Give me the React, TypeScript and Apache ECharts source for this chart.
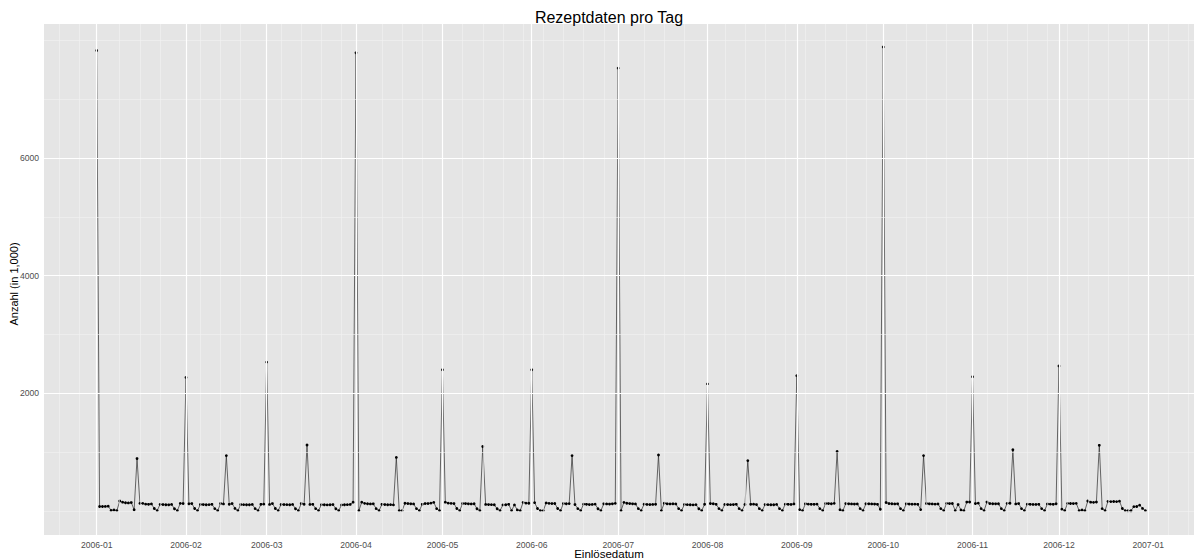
import React, { useEffect, useRef } from "react";
import * as echarts from "echarts";

// Daily values (in 1,000), 2006
const jan = [7830, 75, 75, 76, 80, 8, 15, 5, 168, 148, 138, 135, 142, 20, 890, 128, 128, 115, 112, 118, 40, 5, 111, 108, 105, 103, 110, 36, 4, 128, 125];
const feb = [2270, 120, 125, 40, 5, 110, 108, 105, 106, 112, 38, 4, 125, 118, 940, 112, 125, 42, 5, 108, 106, 104, 105, 110, 38, 5, 112, 115];
const mar = [2530, 110, 125, 40, 5, 110, 108, 106, 105, 110, 36, 4, 125, 112, 1120, 110, 112, 38, 5, 106, 105, 102, 104, 108, 36, 5, 102, 104, 106, 110, 148];
const apr = [7790, 5, 148, 128, 122, 118, 120, 38, 5, 112, 108, 104, 106, 102, 910, 5, 4, 130, 125, 120, 118, 38, 5, 112, 125, 125, 132, 145, 38, 5];
const may = [2400, 148, 132, 128, 125, 40, 5, 125, 125, 120, 118, 122, 36, 5, 1095, 110, 108, 106, 104, 36, 5, 102, 104, 112, 5, 102, 15, 4, 145, 132, 130];
const jun = [2400, 140, 40, 5, 4, 135, 128, 125, 126, 40, 5, 125, 122, 124, 940, 108, 38, 5, 115, 112, 108, 110, 115, 36, 5, 120, 118, 116, 120, 128];
const jul = [7530, 5, 145, 130, 125, 120, 118, 38, 5, 115, 110, 108, 110, 112, 950, 5, 130, 120, 118, 120, 118, 38, 5, 110, 106, 104, 102, 106, 36, 5, 112];
const aug = [2160, 125, 122, 112, 38, 5, 110, 108, 106, 108, 112, 38, 5, 110, 855, 112, 114, 108, 38, 5, 108, 106, 104, 105, 110, 38, 5, 115, 112, 110, 118];
const sep = [2300, 22, 5, 120, 115, 112, 112, 115, 38, 5, 125, 125, 122, 128, 1010, 18, 4, 125, 120, 118, 116, 118, 38, 5, 122, 120, 118, 116, 112, 28];
const oct = [7890, 142, 125, 122, 118, 120, 38, 5, 120, 116, 114, 115, 112, 22, 940, 125, 120, 118, 115, 118, 38, 5, 128, 125, 126, 5, 108, 15, 4, 150, 150];
const nov = [2280, 125, 132, 38, 5, 150, 125, 122, 120, 122, 38, 5, 128, 130, 1040, 118, 125, 38, 5, 115, 112, 110, 110, 112, 38, 5, 118, 115, 112, 120];
const dec = [2465, 30, 5, 128, 126, 125, 128, 5, 15, 4, 168, 148, 145, 150, 1115, 38, 5, 162, 158, 160, 158, 165, 40, 5, 3, 3, 72, 74, 98, 42, 4];

const monthLabels = ["2006-01", "2006-02", "2006-03", "2006-04", "2006-05", "2006-06", "2006-07", "2006-08", "2006-09", "2006-10", "2006-11", "2006-12", "2007-01"];
const yTickValues = [2000, 4000, 6000];
const yMinorValues = [0, 1000, 3000, 5000, 7000, 8000];

const titleText = "Rezeptdaten pro Tag";
const xTitle = "Einlösedatum";
const yTitle = "Anzahl (in 1,000)";

const FONT = "'Liberation Sans', Arial, Helvetica, sans-serif";

export default function App() {
  const ref = useRef<HTMLDivElement>(null);

  useEffect(() => {
    if (!ref.current) return;
    const chart = echarts.init(ref.current, null, { renderer: "svg" });

    const months = [jan, feb, mar, apr, may, jun, jul, aug, sep, oct, nov, dec];
    const data: [number, number][] = [];
    const monthStarts: number[] = [];
    let idx = 0;
    months.forEach((m) => {
      monthStarts.push(idx);
      m.forEach((v) => {
        data.push([idx, v]);
        idx++;
      });
    });
    monthStarts.push(idx);

    const xMin = -18.29;
    const xMax = 380.87;

    // weekly (Monday) minor grid lines; day 1 = Monday 2006-01-02
    const weekly: number[] = [];
    for (let d = -13; d <= xMax; d += 7) {
      const near = monthStarts.some((s) => Math.abs(s - d) <= 2);
      if (!near && d > xMin) weekly.push(d);
    }

    const minorStyle = { color: "#F2F2F2", width: 0.6, type: "solid" as const };
    const majorStyle = { color: "#FFFFFF", width: 1.2, type: "solid" as const };

    const gridLines: any[] = [];
    yMinorValues.forEach((v) => gridLines.push({ yAxis: v, lineStyle: minorStyle }));
    weekly.forEach((v) => gridLines.push({ xAxis: v, lineStyle: minorStyle }));
    yTickValues.forEach((v) => gridLines.push({ yAxis: v, lineStyle: majorStyle }));
    monthStarts.forEach((v) => gridLines.push({ xAxis: v, lineStyle: majorStyle }));

    const labelStyle = { fontFamily: FONT, fontSize: 8.6, color: "#4d4d4d" };

    chart.setOption({
      animation: false,
      backgroundColor: "#ffffff",
      title: [
        {
          text: titleText,
          left: 609,
          top: 9,
          textAlign: "center",
          padding: 0,
          textStyle: { fontFamily: FONT, fontSize: 16, fontWeight: "normal", color: "#000" },
        },
        {
          text: xTitle,
          left: 609,
          top: 547.5,
          textAlign: "center",
          padding: 0,
          textStyle: { fontFamily: FONT, fontSize: 11.5, fontWeight: "normal", color: "#000" },
        },
      ],
      graphic: [
        {
          type: "text",
          x: 14.3,
          y: 284,
          rotation: Math.PI / 2,
          style: {
            text: yTitle,
            fontFamily: FONT,
            fontSize: 11,
            fill: "#000",
            textAlign: "center",
            textVerticalAlign: "middle",
          },
        },
      ],
      grid: {
        left: 44,
        right: 0,
        top: 24,
        bottom: 25,
        show: true,
        backgroundColor: "#E5E5E5",
        borderWidth: 0,
        containLabel: false,
      },
      xAxis: {
        type: "value",
        min: xMin,
        max: xMax,
        axisLine: { show: false },
        splitLine: { show: false },
        axisTick: {
          show: true,
          customValues: monthStarts,
          length: 4,
          lineStyle: { color: "#7f7f7f", width: 1 },
        },
        axisLabel: {
          ...labelStyle,
          customValues: monthStarts,
          margin: 5,
          formatter: (v: number) => {
            const i = monthStarts.indexOf(Math.round(v));
            return i >= 0 ? monthLabels[i] : "";
          },
        },
      },
      yAxis: {
        type: "value",
        min: -410,
        max: 8280,
        axisLine: { show: false },
        splitLine: { show: false },
        axisTick: {
          show: true,
          customValues: yTickValues,
          length: 4,
          lineStyle: { color: "#7f7f7f", width: 1 },
        },
        axisLabel: {
          ...labelStyle,
          customValues: yTickValues,
          margin: 5,
          formatter: (v: number) => String(Math.round(v)),
        },
      },
      series: [
        {
          type: "line",
          data: [],
          z: 1,
          silent: true,
          markLine: {
            silent: true,
            symbol: ["none", "none"],
            label: { show: false },
            animation: false,
            data: gridLines,
          },
        },
        {
          type: "line",
          data,
          z: 3,
          symbol: "circle",
          symbolSize: 2.8,
          showSymbol: true,
          showAllSymbol: true,
          itemStyle: { color: "#000" },
          lineStyle: { color: "#2b2b2b", width: 0.7, join: "round", cap: "round" },
          emphasis: { disabled: true },
        },
      ],
    });

    return () => chart.dispose();
  }, []);

  return (
    <div
      ref={ref}
      style={{ position: "fixed", left: 0, top: 0, width: 1194, height: 560, background: "#fff" }}
    />
  );
}
